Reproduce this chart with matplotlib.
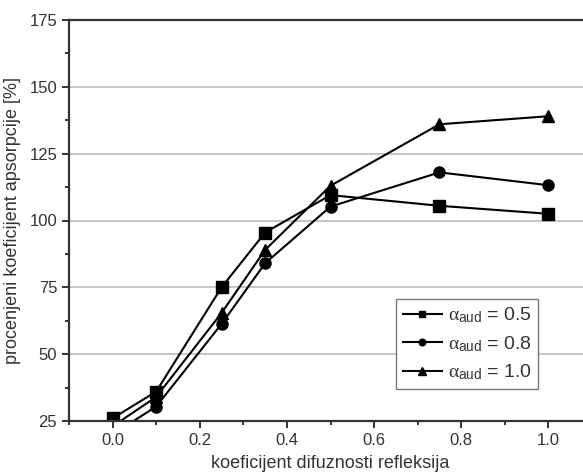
import matplotlib.pyplot as plt
from matplotlib.ticker import MultipleLocator

plt.rcParams['font.family'] = ['Liberation Sans', 'DejaVu Sans']
plt.rcParams['mathtext.fontset'] = 'custom'
plt.rcParams['mathtext.rm'] = 'Liberation Sans'
plt.rcParams['mathtext.sf'] = 'Liberation Sans'
plt.rcParams['mathtext.it'] = 'Liberation Serif'

x = [0.0, 0.1, 0.25, 0.35, 0.5, 0.75, 1.0]
a05 = [26, 36, 75, 95.5, 109.5, 105.5, 102.5]
a08 = [20, 30.4, 61.3, 84, 105.2, 118, 113.2]
a10 = [23, 34, 65.4, 89, 113, 136, 139]

labels = [r'$\alpha_{\mathsf{aud}}$ = 0.5', r'$\alpha_{\mathsf{aud}}$ = 0.8', r'$\alpha_{\mathsf{aud}}$ = 1.0']

fig = plt.figure(figsize=(5.83, 4.75), dpi=100)
ax = fig.add_axes([69/583, 54/475, 523/583, 401/475])

ax.plot(x, a05, color='black', lw=1.5, marker='s', ms=8, label=labels[0])
ax.plot(x, a08, color='black', lw=1.5, marker='o', ms=8, label=labels[1])
ax.plot(x, a10, color='black', lw=1.5, marker='^', ms=9, label=labels[2])

ax.set_xlim(-0.1, 1.1)
ax.set_ylim(25, 175)
ax.xaxis.set_major_locator(MultipleLocator(0.2))
ax.xaxis.set_minor_locator(MultipleLocator(0.1))
ax.yaxis.set_major_locator(MultipleLocator(25))
ax.yaxis.set_minor_locator(MultipleLocator(12.5))
ax.xaxis.set_major_formatter(lambda v, p: f'{v:.1f}')
ax.grid(axis='y', which='major', color='#bbbbbb', lw=1.2)
ax.set_axisbelow(True)

for s in ['left', 'bottom', 'top']:
    ax.spines[s].set_color('#333333')
    ax.spines[s].set_linewidth(1.6)
ax.spines['right'].set_visible(False)
ax.tick_params(which='both', direction='out', color='#333333', width=1.4, labelsize=12, labelcolor='#333333')
ax.tick_params(which='major', length=5)
ax.tick_params(which='minor', length=3)

ax.set_xlabel('koeficijent difuznosti refleksija', fontsize=13, color='#333333', labelpad=5)
ax.set_ylabel('procenjeni koeficijent apsorpcije [%]', fontsize=13, color='#333333', labelpad=6)

leg = ax.legend(loc='lower left', bbox_to_anchor=((396 - 69) / 523, (475 - 389 - 54) / 401),
                fontsize=14, fancybox=False, framealpha=1, edgecolor='#777777', markerscale=0.6,
                handlelength=2.0, handletextpad=0.3, borderpad=0.35, labelspacing=0.45,
                borderaxespad=0)
leg.get_frame().set_linewidth(1.0)
for t in leg.get_texts():
    t.set_color('#333333')

fig.savefig('out.png', dpi=100)
